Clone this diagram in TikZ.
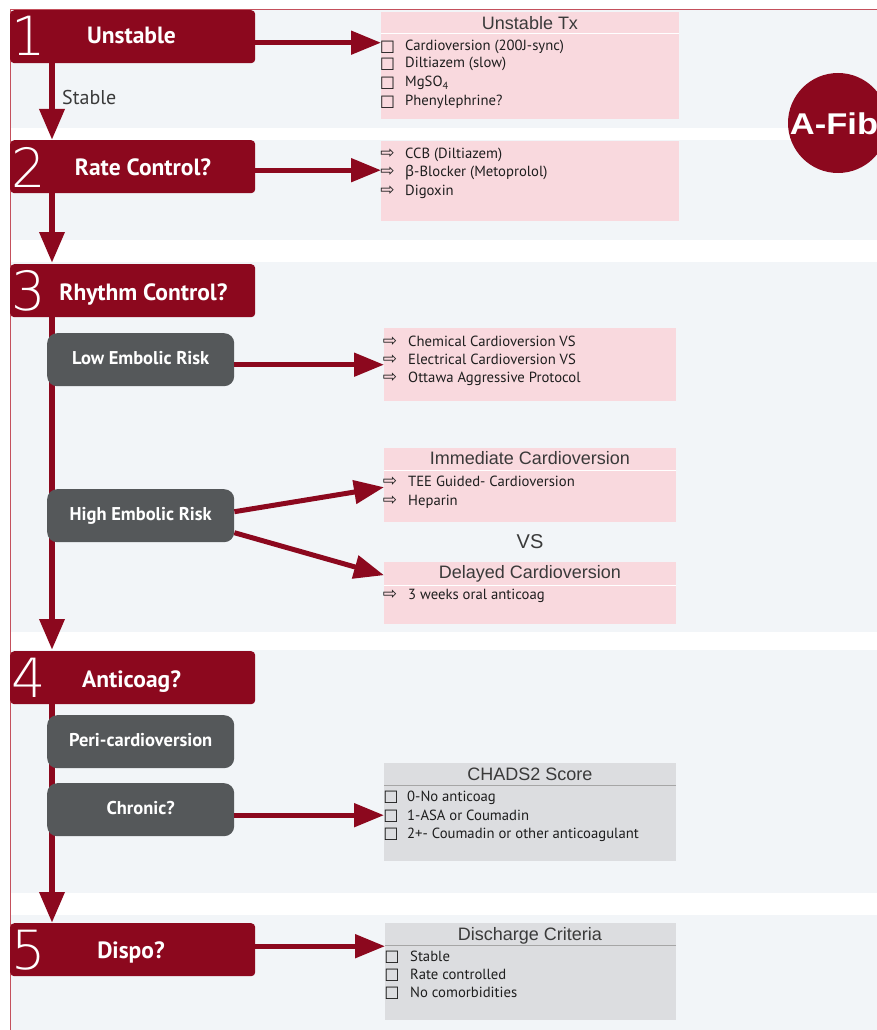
\documentclass[tikz,border=0pt]{standalone}
\usepackage{fontspec}
\usetikzlibrary{arrows.meta}
\setmainfont{PT Sans}
\newfontfamily\helv{Liberation Sans}
\newfontfamily\sym{DejaVu Sans}
\newfontfamily\grk{Noto Sans}
\newfontfamily\thin{DejaVu Sans ExtraLight}
\definecolor{afred}{RGB}{140,8,30}
\definecolor{band}{HTML}{F2F5F8}
\definecolor{pinkbox}{HTML}{F9D9DE}
\definecolor{infogray}{HTML}{DCDDE0}
\definecolor{subgray}{HTML}{55585A}
\definecolor{titlegray}{HTML}{3A3A3A}
\definecolor{itemtext}{HTML}{1E1E1E}
\definecolor{frameline}{HTML}{C4505C}
\begin{document}
\begin{tikzpicture}[x=1pt,y=-1pt,
  hdr/.style={fill=afred, rounded corners=4pt, minimum width=245pt, minimum height=53pt, anchor=north west, inner sep=0pt},
  num/.style={text=white, font=\thin\fontsize{54}{54}\selectfont, inner sep=0pt},
  hlab/.style={text=white, font=\bfseries\fontsize{23.5}{23.5}\selectfont, inner sep=0pt, text height=17pt, text depth=3pt},
  sub/.style={fill=subgray, rounded corners=10pt, minimum width=187pt, minimum height=53pt, inner sep=0pt, text=white, font=\bfseries\fontsize{18.5}{18.5}\selectfont, text height=13pt, text depth=4pt},
  infobox/.style={anchor=north west, inner sep=0pt},
  ttl/.style={font=\helv\fontsize{18}{18}\selectfont, text=titlegray, inner sep=0pt, text height=13pt, text depth=3.5pt},
  itm/.style={anchor=west, inner sep=0pt, font=\fontsize{14.7}{17}\selectfont, text=itemtext, text height=10.5pt, text depth=2.5pt},
  bul/.style={inner sep=0pt, font=\sym\fontsize{17}{17}\selectfont, text=itemtext},
  varrow/.style={draw=afred, line width=6.5pt, -{Triangle[length=31pt,width=24pt]}},
  harrow/.style={draw=afred, line width=5pt, -{Triangle[length=30pt,width=23pt]}}
]
\useasboundingbox (0,0) rectangle (877,1030);
\fill[white] (0,0) rectangle (877,1030);

% section bands
\fill[band] (10,10) rectangle (877,128);
\fill[band] (10,140) rectangle (877,240);
\fill[band] (10,262) rectangle (877,632);
\fill[band] (10,650) rectangle (877,893);
\fill[band] (10,915) rectangle (877,1030);
\draw[frameline, line width=1pt] (10,1030) -- (10,10) -- (877,10);

% A-Fib badge
\node[circle, fill=afred, minimum size=100pt, inner sep=0pt] (afib) at (838,123) {};
\node[font=\helv\bfseries\fontsize{30}{30}\selectfont, text=white, xscale=1.15, inner sep=0pt] (afibt) at (834,124) {A-Fib};

% information boxes
\node[infobox, fill=pinkbox, minimum width=298pt, minimum height=107pt] (ut) at (381,12) {};
\draw[white, line width=1pt] (381,34) -- (679,34);
\node[ttl] (ut-t) at (530,24.5) {Unstable Tx};
\node[infobox, fill=pinkbox, minimum width=298pt, minimum height=80pt] (rc) at (381,141) {};
\node[infobox, fill=pinkbox, minimum width=292pt, minimum height=73pt] (lo) at (384,328) {};
\node[infobox, fill=pinkbox, minimum width=292pt, minimum height=74pt] (im) at (384,448) {};
\draw[white, line width=1pt] (384,470) -- (676,470);
\node[ttl] (im-t) at (530,459.5) {Immediate Cardioversion};
\node[font=\helv\fontsize{20}{20}\selectfont, text=titlegray, inner sep=0pt] (vs) at (530,541.5) {VS};
\node[infobox, fill=pinkbox, minimum width=292pt, minimum height=62pt] (de) at (384,562) {};
\draw[white, line width=1pt] (384,585) -- (676,585);
\node[ttl] (de-t) at (530,573.5) {Delayed Cardioversion};
\node[infobox, fill=infogray, minimum width=292pt, minimum height=98pt] (ch) at (384,763) {};
\draw[gray!70, line width=0.8pt] (384,785) -- (676,785);
\node[ttl] (ch-t) at (530,775.5) {CHADS2 Score};
\node[infobox, fill=infogray, minimum width=291pt, minimum height=97pt] (di) at (385,923) {};
\draw[gray!70, line width=0.8pt] (385,945) -- (676,945);
\node[ttl] (di-t) at (530,935.5) {Discharge Criteria};

% list entries
\foreach \y/\t [count=\i] in {47/Cardioversion (200J-sync), 64/Diltiazem (slow), 83/{MgSO\textsubscript{4}}, 102/Phenylephrine?} {
  \node[bul] (ut-b\i) at (387.5,\y) {☐};
  \node[itm] (ut-i\i) at (405,\y) {\t};
}
\foreach \y/\t [count=\i] in {154/CCB (Diltiazem), 172/{{\grk β}-Blocker (Metoprolol)}, 191/Digoxin} {
  \node[bul] (rc-b\i) at (387.5,\y) {⇨};
  \node[itm] (rc-i\i) at (405,\y) {\t};
}
\foreach \y/\t [count=\i] in {342/Chemical Cardioversion VS, 360/Electrical Cardioversion VS, 378/Ottawa Aggressive Protocol} {
  \node[bul] (lo-b\i) at (390,\y) {⇨};
  \node[itm] (lo-i\i) at (408,\y) {\t};
}
\foreach \y/\t [count=\i] in {482/TEE Guided- Cardioversion, 501/Heparin} {
  \node[bul] (im-b\i) at (390,\y) {⇨};
  \node[itm] (im-i\i) at (408,\y) {\t};
}
\node[bul] (de-b1) at (390,595) {⇨};
\node[itm] (de-i1) at (408,595) {3 weeks oral anticoag};
\foreach \y/\t [count=\i] in {797/0-No anticoag, 816/1-ASA or Coumadin, 834/2+- Coumadin or other anticoagulant} {
  \node[bul] (ch-b\i) at (391,\y) {☐};
  \node[itm] (ch-i\i) at (407,\y) {\t};
}
\foreach \y/\t [count=\i] in {957/Stable, 975/Rate controlled, 993/No comorbidities} {
  \node[bul] (di-b\i) at (392,\y) {☐};
  \node[itm] (di-i\i) at (410,\y) {\t};
}

% step headers
\node[hdr] (b1) at (10,10) {};
\node[hdr] (b2) at (10,140) {};
\node[hdr] (b3) at (10,264) {};
\node[hdr] (b4) at (10,651) {};
\node[hdr] (b5) at (10,923) {};
\node[num] (n1) at (29,36) {1};
\node[num] (n2) at (28.5,167) {2};
\node[num] (n3) at (28.5,291) {3};
\node[num] (n4) at (28.5,678) {4};
\node[num] (n5) at (28.5,950) {5};
\node[hlab] (l1) at (131.5,37) {Unstable};
\node[hlab] (l2) at (143,168) {Rate Control?};
\node[hlab] (l3) at (143.5,293) {Rhythm Control?};
\node[hlab] (l4) at (131.5,680) {Anticoag?};
\node[hlab] (l5) at (131,951) {Dispo?};
\node[font=\fontsize{20}{20}\selectfont, text=titlegray, anchor=west, inner sep=0pt] (stable) at (62,98) {Stable};

% main flow
\coordinate (vx) at (52,0);
\draw[varrow] (b1.south -| vx) -- (b2.north -| vx);
\draw[varrow] (b2.south -| vx) -- ([yshift=1pt]b3.north -| vx);
\draw[varrow] (b3.south -| vx) -- ([yshift=1pt]b4.north -| vx);
\draw[varrow] (b4.south -| vx) -- (b5.north -| vx);

% sub-decision boxes
\node[sub, anchor=north west] (low) at (47,333) {Low Embolic Risk};
\node[sub, anchor=north west] (high) at (47,489) {High Embolic Risk};
\node[sub, anchor=north west] (peri) at (47,715) {Peri-cardioversion};
\node[sub, anchor=north west] (chr) at (47,783) {Chronic?};

% side branches
\coordinate (a1) at ([yshift=-6pt]b1.east);
\draw[harrow] (a1) -- (a1 -| ut.west);
\coordinate (a2) at ([yshift=-3.5pt]b2.east);
\draw[harrow] (a2) -- (a2 -| rc.west);
\draw[harrow] (low.east |- lo.west) -- (lo.west);
\draw[harrow] ([yshift=4pt]high.east) -- ([yshift=-2pt]im.west);
\draw[harrow] ([yshift=-17pt]high.east) -- ([yshift=18pt]de.west);
\coordinate (a4) at ([yshift=-3pt]ch.west);
\draw[harrow] (a4 -| chr.east) -- (a4);
\coordinate (a5) at ([yshift=3.5pt]b5.east);
\draw[harrow] (a5) -- (a5 -| di.west);
\end{tikzpicture}
\end{document}
